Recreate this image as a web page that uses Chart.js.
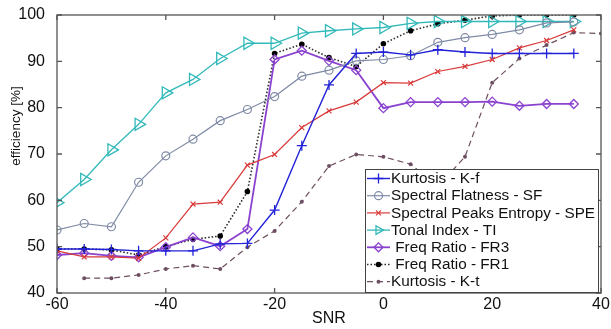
<!DOCTYPE html>
<html>
<head>
<meta charset="utf-8">
<script src="https://cdn.jsdelivr.net/npm/chart.js@4.4.0/dist/chart.umd.min.js"></script>
<style>
  html, body { margin: 0; padding: 0; background: #fff; }
  #box { width: 611px; height: 329px; }
</style>
</head>
<body>
<div id="box"><canvas id="chartSnr"></canvas></div>
<script>
// valores
var snr = [-60, -55, -50, -45, -40, -35, -30, -25, -20, -15, -10, -5, 0, 5, 10, 15, 20, 25, 30, 35];
var snrKt = [-55, -50, -45, -40, -35, -30, -25, -20, -15, -10, -5, 0, 5, 10, 15, 20, 25, 30, 35, 40];
var kurtosisKf = [49.5, 49.5, 49.4, 49.1, 49.1, 49.1, 50.6, 50.7, 57.9, 71.8, 84.9, 91.7, 92, 91.4, 92.5, 92, 91.7, 91.7, 91.7, 91.7];
var spectralFlatness = [53.6, 55, 54.3, 63.9, 69.6, 73.2, 77.2, 79.6, 82.4, 86.8, 88.1, 90.1, 90.4, 91.2, 94.1, 95.1, 95.8, 96.8, 98.3, 98.5];
var spectralPeaksEntropy = [49.1, 47.8, 47.8, 47.5, 51.9, 59.2, 59.6, 67.6, 69.9, 75.7, 79.3, 81.2, 85.4, 85.3, 87.8, 88.9, 90.4, 92.9, 94.5, 96.8];
var tonalIndex = [59.5, 64.5, 70.9, 76.4, 83.2, 86.1, 90.6, 93.9, 93.9, 96.1, 96.6, 97, 97.3, 98.2, 98.6, 98.6, 98.6, 98.6, 98.6, 98.6];
var freqRatioFR3 = [48.2, 48.6, 48, 47.7, 49.9, 52, 50.1, 53.8, 90.4, 92.3, 90.1, 88.1, 79.9, 81.2, 81.2, 81.2, 81.3, 80.4, 80.8, 80.8];
var freqRatioFR1 = [49.5, 49.5, 49.3, 48.2, 50, 51.6, 52.3, 61.9, 91.7, 93.7, 90.8, 88.9, 93.8, 96.6, 98.1, 98.9, 99.8, 100, 100, 100];
var kurtosisKt = [43.2, 43.2, 43.9, 45.2, 45.9, 45.2, 49.9, 53.4, 59.7, 67.4, 69.9, 69.4, 67.8, 63, 69.4, 85.4, 90.6, 93.5, 96.2, 96];

var xTicks = [-60, -40, -20, 0, 20, 40];
var yTicks = [40, 50, 60, 70, 80, 90, 100];

function pares(xs, ys) {
  return xs.map(function (x, i) { return { x: x, y: ys[i] }; });
}

var fonte = "'Liberation Sans', Arial, sans-serif";

var datasets = [
  { label: 'Kurtosis - K-f', data: pares(snr, kurtosisKf), borderColor: '#2323d8', borderWidth: 1.4,
    pointStyle: 'cross', pointRadius: 5, pointBorderColor: '#2323d8', pointBorderWidth: 1.3 },
  { label: 'Spectral Flatness - SF', data: pares(snr, spectralFlatness), borderColor: '#7f8ba5', borderWidth: 1.2,
    pointStyle: 'circle', pointRadius: 4, pointBorderColor: '#7f8ba5', pointBackgroundColor: 'rgba(0,0,0,0)', pointBorderWidth: 1.2 },
  { label: 'Spectral Peaks Entropy - SPE', data: pares(snr, spectralPeaksEntropy), borderColor: '#d93a3a', borderWidth: 1.2,
    pointStyle: 'crossRot', pointRadius: 3.5, pointBorderColor: '#d93a3a', pointBorderWidth: 1.2 },
  { label: 'Tonal Index - TI', data: pares(snr, tonalIndex), borderColor: '#33b9b9', borderWidth: 1.3,
    pointStyle: 'triangle', pointRotation: 90, pointRadius: 7, pointBorderColor: '#33b9b9', pointBackgroundColor: 'rgba(0,0,0,0)', pointBorderWidth: 1.3 },
  { label: ' Freq Ratio - FR3', data: pares(snr, freqRatioFR3), borderColor: '#8a42cf', borderWidth: 1.8,
    pointStyle: 'rectRot', pointRadius: 4.5, pointBorderColor: '#8a42cf', pointBackgroundColor: 'rgba(0,0,0,0)', pointBorderWidth: 1.3 },
  { label: ' Freq Ratio - FR1', data: pares(snr, freqRatioFR1), borderColor: '#2a2a2a', borderWidth: 1.6, borderDash: [1.5, 2],
    pointStyle: 'circle', pointRadius: 2.8, pointBorderColor: '#000', pointBackgroundColor: '#000', pointBorderWidth: 0 },
  { label: 'Kurtosis - K-t', data: pares(snrKt, kurtosisKt), borderColor: '#6e4f62', borderWidth: 1.2, borderDash: [6, 4],
    pointStyle: 'circle', pointRadius: 2, pointBorderColor: '#6e4f62', pointBackgroundColor: '#6e4f62', pointBorderWidth: 0 }
];

// moldura com marcas de escala para dentro
var molduraPlugin = {
  id: 'moldura',
  afterDraw: function (chart) {
    var ctx = chart.ctx, a = chart.chartArea, sx = chart.scales.x, sy = chart.scales.y;
    ctx.save();
    ctx.strokeStyle = '#555';
    ctx.lineWidth = 1.3;
    ctx.strokeRect(a.left, a.top, a.right - a.left, a.bottom - a.top);
    ctx.beginPath();
    xTicks.forEach(function (v) {
      var px = sx.getPixelForValue(v);
      ctx.moveTo(px, a.bottom); ctx.lineTo(px, a.bottom - 5);
      ctx.moveTo(px, a.top); ctx.lineTo(px, a.top + 5);
    });
    yTicks.forEach(function (v) {
      var py = sy.getPixelForValue(v);
      ctx.moveTo(a.left, py); ctx.lineTo(a.left + 5, py);
      ctx.moveTo(a.right, py); ctx.lineTo(a.right - 5, py);
    });
    ctx.stroke();
    // título do eixo y
    ctx.translate(16, 126);
    ctx.rotate(-Math.PI / 2);
    ctx.fillStyle = '#111';
    ctx.font = '13.5px ' + fonte;
    ctx.textAlign = 'center';
    ctx.textBaseline = 'middle';
    ctx.fillText('efficiency [%]', 0, 0);
    ctx.restore();
  }
};

// legenda dentro da área do gráfico, canto inferior direito
var legendaPlugin = {
  id: 'legendaCaixa',
  afterDraw: function (chart) {
    var ctx = chart.ctx;
    var x0 = 365.5, y0 = 169.5, w = 233, h = 123;
    ctx.save();
    ctx.fillStyle = '#fff';
    ctx.fillRect(x0, y0, w, h);
    ctx.strokeStyle = '#444';
    ctx.lineWidth = 1;
    ctx.strokeRect(x0, y0, w, h);
    ctx.font = '15.3px ' + fonte;
    ctx.textBaseline = 'middle';
    datasets.forEach(function (ds, i) {
      var y = 178.5 + i * 17.2;
      ctx.save();
      ctx.strokeStyle = ds.borderColor;
      ctx.lineWidth = ds.borderWidth;
      ctx.setLineDash(ds.borderDash || []);
      ctx.beginPath();
      ctx.moveTo(367, y); ctx.lineTo(390, y);
      ctx.stroke();
      ctx.setLineDash([]);
      ctx.fillStyle = ds.pointBackgroundColor || 'rgba(0,0,0,0)';
      ctx.strokeStyle = ds.pointBorderColor;
      ctx.lineWidth = ds.pointBorderWidth;
      Chart.helpers.drawPoint(ctx, {
        pointStyle: ds.pointStyle, rotation: ds.pointRotation || 0,
        radius: Math.min(ds.pointRadius, 5), borderWidth: ds.pointBorderWidth
      }, 378.5, y);
      ctx.restore();
      ctx.fillStyle = '#111';
      ctx.fillText(ds.label, 391, y + 0.5);
    });
    ctx.restore();
  }
};

var ctxSnr = document.getElementById('chartSnr').getContext('2d');
var configSnr = {
  type: 'line',
  data: { datasets: datasets },
  options: {
    responsive: true,
    maintainAspectRatio: false,
    animation: false,
    layout: { padding: { top: 15, right: 10, left: 0, bottom: 0 } },
    plugins: { legend: { display: false }, tooltip: { enabled: false } },
    scales: {
      x: {
        type: 'linear', min: -60, max: 40,
        grid: { display: false }, border: { display: false },
        ticks: { stepSize: 20, color: '#111', padding: -6, font: { size: 16, family: fonte } },
        title: { display: true, text: 'SNR', color: '#111', font: { size: 16, family: fonte }, padding: { top: 0, bottom: 1 } },
        afterFit: function (s) { s.height = 36; }
      },
      y: {
        min: 40, max: 100,
        grid: { display: false }, border: { display: false },
        ticks: { stepSize: 10, color: '#111', padding: 4, font: { size: 16, family: fonte } },
        afterFit: function (s) { s.width = 57; }
      }
    }
  },
  plugins: [molduraPlugin, legendaPlugin]
};
var graficoSnr = new Chart(ctxSnr, configSnr);
</script>
</body>
</html>
